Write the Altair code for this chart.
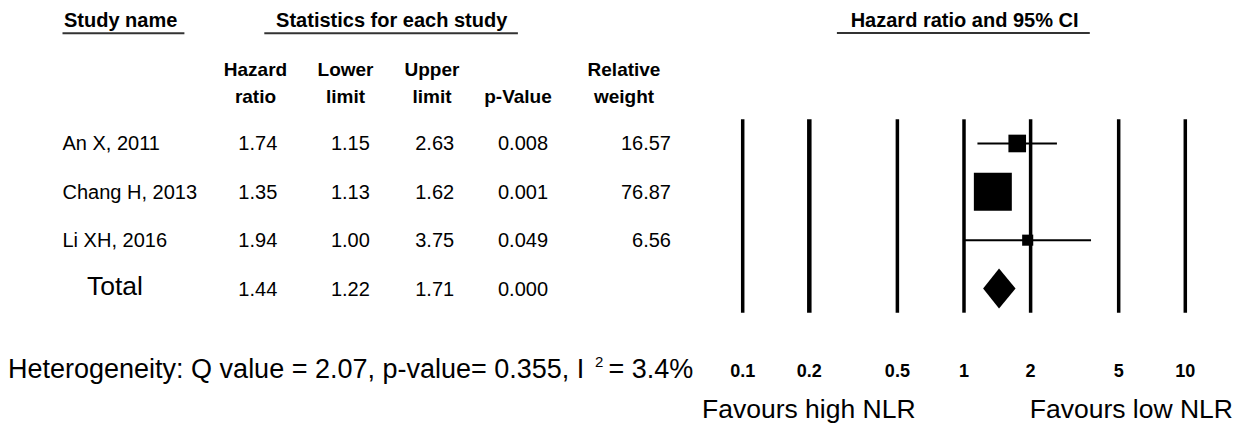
import altair as alt
import pandas as pd

# ---------------- data ----------------
studies = ["An X, 2011", "Chang H, 2013", "Li XH, 2016"]
hazard_ratio = [1.74, 1.35, 1.94]
lower_limit = [1.15, 1.13, 1.00]
upper_limit = [2.63, 1.62, 3.75]
p_values = ["0.008", "0.001", "0.049"]
rel_weight = [16.57, 76.87, 6.56]

total_label = "Total"
total_hr = 1.44
total_lower = 1.22
total_upper = 1.71
total_p = "0.000"

axis_ticks = [0.1, 0.2, 0.5, 1, 2, 5, 10]
axis_labels = ["0.1", "0.2", "0.5", "1", "2", "5", "10"]

col_headers_1 = ["Hazard", "Lower", "Upper", "", "Relative"]
col_headers_2 = ["ratio", "limit", "limit", "p-Value", "weight"]
top_headers = ["Study name", "Statistics for each study", "Hazard ratio and 95% CI"]
heterogeneity_main = "Heterogeneity: Q value = 2.07, p-value= 0.355, I"
heterogeneity_sup = "2"
heterogeneity_end = "= 3.4%"
favours_left = "Favours high NLR"
favours_right = "Favours low NLR"

# ---------------- layout (pixels, chart coordinates) ----------------
W, H = 1237, 418
FONT = "Liberation Sans"
X_RANGE = [734.7, 1177.3]
Y_RANGE = [111.3, 304.7]
ROW_DY = 7
DIAMOND_HALF = 0.415

n_rows = len(studies) + 1
xs = alt.Scale(type="log", domain=[axis_ticks[0], axis_ticks[-1]], range=X_RANGE)
ys = alt.Scale(domain=[-0.5, n_rows - 0.5], range=Y_RANGE, nice=False, zero=False)

study_df = pd.DataFrame({
    "row": list(range(len(studies))),
    "name": studies,
    "hr": hazard_ratio,
    "lo": lower_limit,
    "up": upper_limit,
    "w": rel_weight,
})

table_df = pd.DataFrame({
    "row": list(range(n_rows)),
    "hr_t": [f"{v:.2f}" for v in hazard_ratio + [total_hr]],
    "lo_t": [f"{v:.2f}" for v in lower_limit + [total_lower]],
    "up_t": [f"{v:.2f}" for v in upper_limit + [total_upper]],
    "p_t": p_values + [total_p],
    "w_t": [f"{v:.2f}" for v in rel_weight] + [""],
})

tick_df = pd.DataFrame({
    "tick": axis_ticks,
    "label": axis_labels,
    "y0": [-0.5] * len(axis_ticks),
    "y1": [n_rows - 0.5] * len(axis_ticks),
})

total_row = n_rows - 1
diamond_df = pd.DataFrame({
    "x": [total_lower, total_hr, total_upper],
    "ytop": [total_row, total_row - DIAMOND_HALF, total_row],
    "ybot": [total_row, total_row + DIAMOND_HALF, total_row],
})


def free_text(txt, x, y, size, bold=False, align="left", baseline="alphabetic"):
    return alt.Chart(pd.DataFrame({"t": [txt]})).mark_text(
        font=FONT, fontSize=size, fontWeight="bold" if bold else "normal",
        align=align, baseline=baseline, color="black"
    ).encode(x=alt.value(x), y=alt.value(y), text="t:N")


def underline(x1, x2, y):
    return alt.Chart(pd.DataFrame({"a": [0]})).mark_rule(
        color="#333333", strokeWidth=2
    ).encode(x=alt.value(x1), x2=alt.value(x2), y=alt.value(y))


layers = []

# vertical reference lines
layers.append(
    alt.Chart(tick_df).mark_rule(color="black").encode(
        x=alt.X("tick:Q", scale=xs, axis=None),
        y=alt.Y("y0:Q", scale=ys, axis=None),
        y2="y1:Q",
        strokeWidth=alt.condition(alt.datum.tick == 0.2, alt.value(4.5), alt.value(3.5)),
    )
)

# confidence intervals
layers.append(
    alt.Chart(study_df).mark_rule(color="black", strokeWidth=2).encode(
        x=alt.X("lo:Q", scale=xs, axis=None),
        x2="up:Q",
        y=alt.Y("row:Q", scale=ys, axis=None),
    )
)

# weighted squares
layers.append(
    alt.Chart(study_df).mark_square(filled=True, color="black", opacity=1).encode(
        x=alt.X("hr:Q", scale=xs, axis=None),
        y=alt.Y("row:Q", scale=ys, axis=None),
        size=alt.Size("w:Q", scale=alt.Scale(domain=[0, 80], range=[0, 1500]), legend=None),
    )
)

# pooled diamond
layers.append(
    alt.Chart(diamond_df).mark_area(color="black", orient="vertical", interpolate="linear", opacity=1).encode(
        x=alt.X("x:Q", scale=xs, axis=None),
        y=alt.Y("ytop:Q", scale=ys, axis=None),
        y2="ybot:Q",
    )
)

# tick labels
layers.append(
    alt.Chart(tick_df).mark_text(font=FONT, fontSize=18, fontWeight="bold", baseline="alphabetic", color="black").encode(
        x=alt.X("tick:Q", scale=xs, axis=None),
        y=alt.value(368.7),
        text="label:N",
    )
)

# study names
layers.append(
    alt.Chart(study_df).mark_text(font=FONT, fontSize=20, align="left", baseline="alphabetic", dy=ROW_DY, color="black").encode(
        x=alt.value(54.5),
        y=alt.Y("row:Q", scale=ys, axis=None),
        text="name:N",
    )
)
layers.append(
    alt.Chart(pd.DataFrame({"row": [total_row], "name": [total_label]})).mark_text(
        font=FONT, fontSize=26.5, align="left", baseline="alphabetic", dy=6, color="black"
    ).encode(
        x=alt.value(79),
        y=alt.Y("row:Q", scale=ys, axis=None),
        text="name:N",
    )
)

# numeric columns
for field, xpos, align in [("hr_t", 249.8, "center"), ("lo_t", 342.4, "center"),
                           ("up_t", 426.7, "center"), ("p_t", 515, "center"),
                           ("w_t", 663, "right")]:
    layers.append(
        alt.Chart(table_df).mark_text(font=FONT, fontSize=20, align=align, baseline="alphabetic", dy=ROW_DY, color="black").encode(
            x=alt.value(xpos),
            y=alt.Y("row:Q", scale=ys, axis=None),
            text=f"{field}:N",
        )
    )

# column headers
col_x = [247.5, 337.5, 424, 510, 616]
for h1, h2, cx in zip(col_headers_1, col_headers_2, col_x):
    if h1:
        layers.append(free_text(h1, cx, 68, 19, bold=True, align="center"))
    layers.append(free_text(h2, cx, 95, 19, bold=True, align="center"))

# top headers + underlines
layers.append(free_text(top_headers[0], 56, 19.3, 20, bold=True, align="left"))
layers.append(underline(54.5, 176.4, 25.3))
layers.append(free_text(top_headers[1], 383.7, 19.3, 20, bold=True, align="center"))
layers.append(underline(256.3, 509.9, 25.3))
layers.append(free_text(top_headers[2], 956.6, 19.3, 20, bold=True, align="center"))
layers.append(underline(828.9, 1081.8, 25))

# heterogeneity line
layers.append(free_text(heterogeneity_main, 0, 370.3, 27))
layers.append(free_text(heterogeneity_sup, 587, 359, 15))
layers.append(free_text(heterogeneity_end, 685.3, 370.3, 27, align="right"))

# favours labels
layers.append(free_text(favours_left, 694, 410.3, 26.5))
layers.append(free_text(favours_right, 1225, 410.3, 26.5, align="right"))

chart = alt.layer(*layers).properties(
    width=W, height=H, padding=0, autosize=alt.AutoSizeParams(type="none")
).configure_view(stroke=None)

chart.save("out.html", embed_options={"renderer": "svg", "actions": False})
